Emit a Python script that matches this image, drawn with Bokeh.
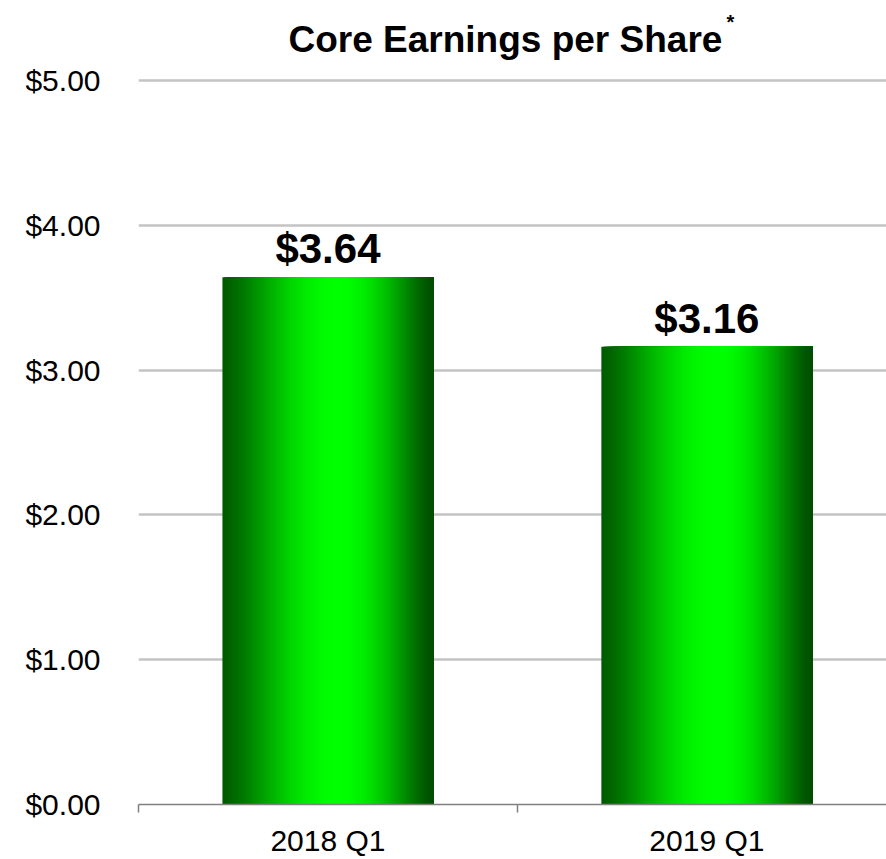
import numpy as np
from bokeh.plotting import figure
from bokeh.models import ColumnDataSource, Range1d, FixedTicker, LabelSet, Label
from bokeh.core.properties import value
from bokeh.embed import file_html
from bokeh.resources import INLINE

# ---- data ----
categories = ["2018 Q1", "2019 Q1"]
eps = [3.64, 3.16]
eps_labels = ["$3.64", "$3.16"]
y_ticks = [0, 1, 2, 3, 4, 5]
y_tick_labels = ["$0.00", "$1.00", "$2.00", "$3.00", "$4.00", "$5.00"]
title_text = "Core Earnings per Share"
footnote_mark = "*"

# ---- styling / layout ----
FONT = "Liberation Sans"
N_SLICES = 120
BAR_WIDTH = 0.557
X_END = 1.974
W, H = 886, 859
BORDER_LEFT, BORDER_BOTTOM = 138, 54
FRAME_H = H - BORDER_BOTTOM          # frame reaches the top of the canvas
PX_PER_UNIT = 145.0
Y_END = FRAME_H / PX_PER_UNIT        # room above $5.00 for the title


def green_at(t):
    # horizontal gradient: dark at edges, bright near centre
    peak = 0.55
    lo_left, lo_right = 0x5a, 0x4c
    if t <= peak:
        u = t / peak
        lo = lo_left
    else:
        u = (1 - t) / (1 - peak)
        lo = lo_right
    s = np.sin(u * np.pi / 2) ** 1.3
    g = int(round(lo + (255 - lo) * s))
    return "#00%02x00" % g


p = figure(width=W, height=H,
           x_range=Range1d(0, X_END), y_range=Range1d(0, Y_END),
           output_backend="svg", toolbar_location=None,
           min_border_left=BORDER_LEFT, min_border_right=0,
           min_border_top=0, min_border_bottom=BORDER_BOTTOM)

# gradient bars built from thin slices; each slice spans to the bar's right
# edge so that later slices cover earlier ones without seams
lefts, rights, tops, cols = [], [], [], []
for i, v in enumerate(eps):
    centre = i + 0.5
    bar_left = centre - BAR_WIDTH / 2
    for k in range(N_SLICES):
        t0 = k / N_SLICES
        lefts.append(bar_left + t0 * BAR_WIDTH)
        rights.append(bar_left + BAR_WIDTH)
        tops.append(v)
        cols.append(green_at((k + 0.5) / N_SLICES))
bars = ColumnDataSource(dict(left=lefts, right=rights, top=tops, color=cols))
p.quad(left="left", right="right", top="top", bottom=0, fill_color="color",
       line_color=None, source=bars)

# value labels
lab_src = ColumnDataSource(dict(x=[i + 0.5 for i in range(len(categories))],
                                y=eps, text=eps_labels))
p.add_layout(LabelSet(x="x", y="y", text="text", source=lab_src,
                      text_align="center", text_baseline="alphabetic", y_offset=14,
                      text_font=value(FONT), text_font_size=value("42px"),
                      text_font_style=value("bold"), text_color=value("#000000")))

# title (inside the frame's upper margin) with superscript footnote mark
p.add_layout(Label(x=150, y=FRAME_H - 40, x_units="screen", y_units="screen",
                   text=title_text, text_font=FONT, text_font_size="37px",
                   text_font_style="bold", text_color="#000000",
                   text_align="left", text_baseline="alphabetic"))
p.add_layout(Label(x=588, y=FRAME_H - 22, x_units="screen", y_units="screen",
                   text=footnote_mark, text_font=FONT, text_font_size="20px",
                   text_font_style="bold", text_color="#000000",
                   text_align="left", text_baseline="alphabetic"))

# y axis
p.yaxis.ticker = FixedTicker(ticks=y_ticks)
p.yaxis.major_label_overrides = {t: l for t, l in zip(y_ticks, y_tick_labels)}
p.yaxis.axis_line_color = None
p.yaxis.major_tick_line_color = None
p.yaxis.minor_tick_line_color = None
p.yaxis.major_tick_out = 0
p.yaxis.major_tick_in = 0
p.yaxis.major_label_standoff = 38
p.yaxis.major_label_text_font = FONT
p.yaxis.major_label_text_font_size = "30px"
p.yaxis.major_label_text_color = "#000000"

# x axis: labels at category centres, ticks at category boundaries
cat_centres = [i + 0.5 for i in range(len(categories))]
p.xaxis.ticker = FixedTicker(ticks=cat_centres,
                             minor_ticks=list(range(len(categories) + 1)))
p.xaxis.major_label_overrides = {c: l for c, l in zip(cat_centres, categories)}
p.xaxis.major_tick_line_color = None
p.xaxis.major_tick_out = 0
p.xaxis.major_tick_in = 0
p.xaxis.minor_tick_in = 0
p.xaxis.minor_tick_out = 8
p.xaxis.minor_tick_line_color = "#808080"
p.xaxis.minor_tick_line_width = 1.5
p.xaxis.axis_line_color = "#808080"
p.xaxis.axis_line_width = 1.5
p.xaxis.major_label_standoff = 11
p.xaxis.major_label_text_font = FONT
p.xaxis.major_label_text_font_size = "30px"
p.xaxis.major_label_text_color = "#000000"

# grid
p.xgrid.grid_line_color = None
p.ygrid.ticker = FixedTicker(ticks=y_ticks)
p.ygrid.grid_line_color = "#c4c4c4"
p.ygrid.grid_line_width = 2.5

p.outline_line_color = None
p.background_fill_color = "#ffffff"
p.border_fill_color = "#ffffff"

open("out.html", "w").write(file_html(p, INLINE))
